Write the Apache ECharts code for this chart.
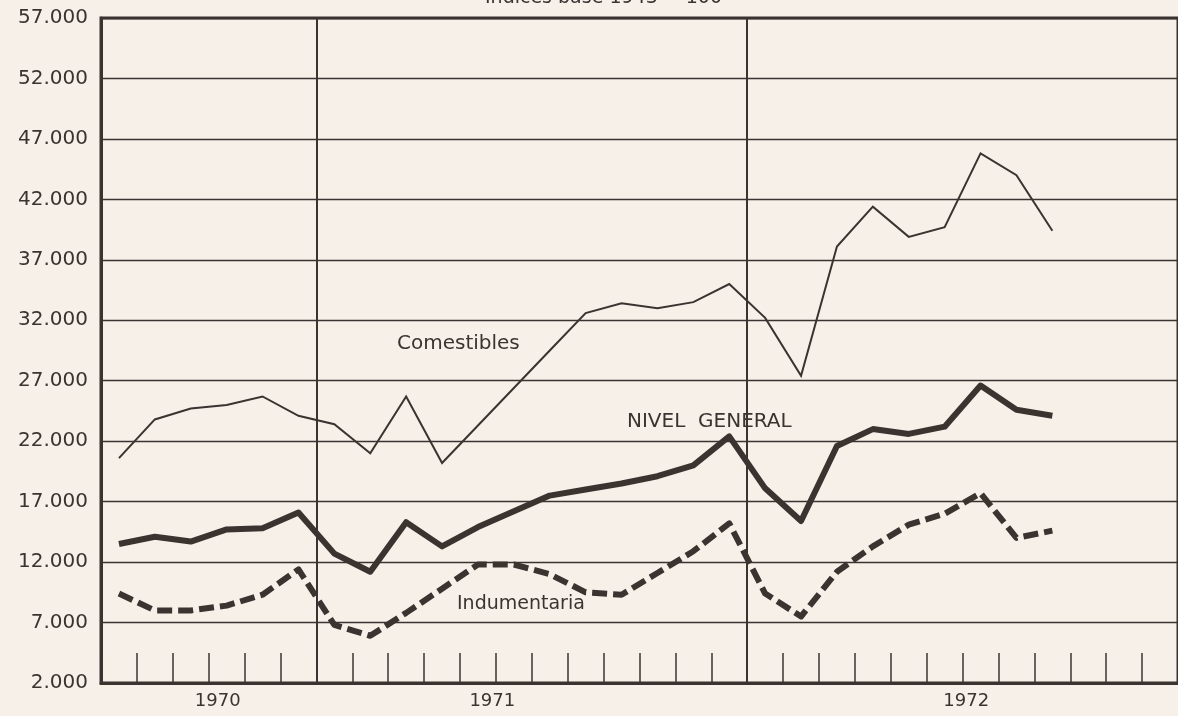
<!DOCTYPE html>
<html>
<head>
<meta charset="utf-8">
<title>Indices base 1943 = 100</title>
<script src="https://cdn.jsdelivr.net/npm/echarts@6/dist/echarts.min.js"></script>
<style>
  html, body { margin: 0; padding: 0; background: #f7f0e9; }
  #chart { width: 1178px; height: 716px; }
</style>
</head>
<body>
<div id="chart"></div>
<script>
// meses de julio 1970 a diciembre 1972 (datos hasta septiembre 1972)
const months = [
  '1970-07', '1970-08', '1970-09', '1970-10', '1970-11', '1970-12',
  '1971-01', '1971-02', '1971-03', '1971-04', '1971-05', '1971-06',
  '1971-07', '1971-08', '1971-09', '1971-10', '1971-11', '1971-12',
  '1972-01', '1972-02', '1972-03', '1972-04', '1972-05', '1972-06',
  '1972-07', '1972-08', '1972-09', '1972-10', '1972-11', '1972-12'
];
const comestibles = [
  20600, 23800, 24700, 25000, 25700, 24100,
  23400, 21000, 25700, 20200, 23300, 26400, 29500, 32600, 33400, 33000, 33500, 35000,
  32200, 27400, 38100, 41400, 38900, 39700, 45800, 44000, 39400
];
const nivelGeneral = [
  13500, 14100, 13700, 14700, 14800, 16100,
  12700, 11200, 15300, 13300, 14900, 16200, 17500, 18000, 18500, 19100, 20000, 22400,
  18100, 15400, 21600, 23000, 22600, 23200, 26600, 24600, 24100
];
const indumentaria = [
  9400, 8000, 8000, 8400, 9300, 11400,
  6800, 5900, 7800, 9800, 11800, 11800, 11000, 9500, 9300, 11100, 12900, 15200,
  9400, 7500, 11200, 13300, 15100, 16000, 17700, 14000, 14600
];
const yTicks = [2000, 7000, 12000, 17000, 22000, 27000, 32000, 37000, 42000, 47000, 52000, 57000];
const years = ['1970', '1971', '1972'];
const yearBreaks = ['1971-01', '1972-01'];

const ink = '#3b3330';
const font = '"DejaVu Sans", sans-serif';
// mismo rectángulo para las dos grillas
const plot = { left: 101, top: 18, width: 1087, bottom: 33 };
// donde van los rótulos de año (en meses desde el origen)
const yearAt = [3.25, 10.9, 24.1];

const chart = echarts.init(document.getElementById('chart'));

chart.setOption({
  backgroundColor: '#f7f0e9',
  animation: false,
  grid: [
    Object.assign({ show: true, borderColor: ink, borderWidth: 3, backgroundColor: 'transparent' }, plot),
    Object.assign({}, plot)
  ],
  xAxis: [
    {
      type: 'category',
      gridIndex: 0,
      data: months,
      boundaryGap: true,
      axisLine: { lineStyle: { color: ink, width: 3 } },
      axisTick: { show: true, inside: true, length: 30, interval: 0, lineStyle: { color: ink, width: 1.5 } },
      axisLabel: { show: false },
      splitLine: {
        show: true,
        interval: (i, v) => yearBreaks.includes(v),
        lineStyle: { color: ink, width: 2 }
      }
    },
    {
      // rótulos de los años
      type: 'value',
      gridIndex: 1,
      min: 0,
      max: 30,
      axisLine: { show: false },
      axisTick: { show: false },
      splitLine: { show: false },
      axisLabel: {
        customValues: yearAt,
        formatter: (v) => {
          const idx = yearAt.indexOf(v);
          return idx >= 0 ? years[idx] : '';
        },
        color: ink,
        fontFamily: font,
        fontSize: 18,
        margin: 9
      }
    }
  ],
  yAxis: [
    {
      type: 'value',
      gridIndex: 0,
      min: 2000,
      max: 57000,
      axisLine: { show: true, lineStyle: { color: ink, width: 3 } },
      axisTick: { show: false, customValues: yTicks },
      axisLabel: {
        customValues: yTicks,
        formatter: (v) => (v / 1000) + '.000',
        color: ink,
        fontFamily: font,
        fontSize: 20,
        margin: 13
      },
      splitLine: { show: true, lineStyle: { color: ink, width: 1.3 } }
    },
    {
      type: 'value',
      gridIndex: 1,
      show: false
    }
  ],
  graphic: [
    {
      type: 'text', left: 485, top: -11,
      style: { text: 'Indices base 1943 = 100', fill: ink, font: '19px ' + font }
    },
    {
      type: 'text', left: 397, top: 334,
      style: { text: 'Comestibles', fill: ink, font: '20px ' + font }
    },
    {
      type: 'text', left: 627, top: 412,
      style: { text: 'NIVEL  GENERAL', fill: ink, font: '20px ' + font }
    },
    {
      type: 'text', left: 457, top: 595,
      style: { text: 'Indumentaria', fill: ink, font: '19px ' + font }
    }
  ],
  series: [
    {
      name: 'Comestibles',
      type: 'line',
      data: comestibles,
      symbol: 'none',
      lineStyle: { color: ink, width: 2, join: 'miter' }
    },
    {
      name: 'Nivel general',
      type: 'line',
      data: nivelGeneral,
      symbol: 'none',
      lineStyle: { color: ink, width: 6, join: 'round' }
    },
    {
      name: 'Indumentaria',
      type: 'line',
      data: indumentaria,
      symbol: 'none',
      lineStyle: { color: ink, width: 6, type: [15, 6], cap: 'butt', join: 'round' }
    }
  ]
});
</script>
</body>
</html>
